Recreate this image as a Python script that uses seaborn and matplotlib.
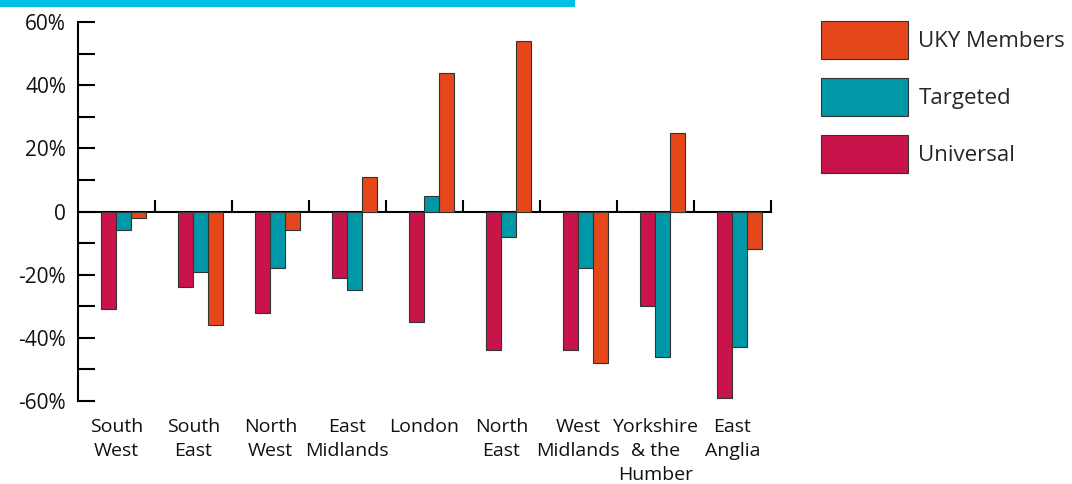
import numpy as np
import pandas as pd
import matplotlib
matplotlib.use("Agg")
import matplotlib.pyplot as plt
from matplotlib.patches import Patch, Rectangle
from matplotlib.ticker import MultipleLocator, FixedLocator
import seaborn as sns

regions = ["South\nWest", "South\nEast", "North\nWest", "East\nMidlands", "London",
           "North\nEast", "West\nMidlands", "Yorkshire\n& the\nHumber", "East\nAnglia"]
universal = [-31, -24, -32, -21, -35, -44, -44, -30, -59]
targeted = [-6, -19, -18, -25, 5, -8, -18, -46, -43]
uky_members = [-2, -36, -6, 11, 44, 54, -48, 25, -12]
series_names = ["Universal", "Targeted", "UKY Members"]
colors = {"Universal": "#C8144A", "Targeted": "#0098A6", "UKY Members": "#E5461A"}
y_ticks = [-60, -40, -20, 0, 20, 40, 60]
y_tick_labels = ["-60%", "-40%", "-20%", "0", "20%", "40%", "60%"]

df = pd.DataFrame({
    "region": regions * 3,
    "series": np.repeat(series_names, len(regions)),
    "value": universal + targeted + uky_members,
})

sns.set_theme(style="white")
plt.rcParams["font.family"] = ["Open Sans", "DejaVu Sans"]

fig = plt.figure(figsize=(10.72, 4.84), dpi=100)
ax = fig.add_axes([0.0728, 0.1715, 0.6462, 0.783])

sns.barplot(data=df, x="region", y="value", hue="series", order=regions,
            hue_order=series_names, palette=colors, saturation=1, width=0.584, gap=0,
            edgecolor="#333333", linewidth=0.8, legend=False, ax=ax)

ax.set_ylim(-60, 60)
ax.set_xlim(-0.591, 8.409)
ax.set_xlabel("")
ax.set_ylabel("")

# y axis
ax.yaxis.set_major_locator(FixedLocator(y_ticks))
ax.set_yticklabels(y_tick_labels)
ax.yaxis.set_minor_locator(MultipleLocator(10))
ax.tick_params(axis="y", which="both", direction="in", length=12.5, width=1.5,
               color="black", left=True, labelsize=15, pad=8.6, labelcolor="#111111")
ax.spines["left"].set_linewidth(1.5)
ax.spines["left"].set_color("black")
for s in ["top", "right", "bottom"]:
    ax.spines[s].set_visible(False)

# x labels at the category span centres
ax.set_xticks(np.arange(len(regions)) - 0.091)
ax.set_xticklabels(regions, fontsize=14, linespacing=1.45, color="#111111")
ax.tick_params(axis="x", which="both", length=0, pad=12)

# zero line with upward boundary ticks
sec = ax.secondary_xaxis(0, transform=ax.transData)
bounds = np.arange(len(regions)) + 0.409
sec.set_xticks(bounds, labels=[""] * len(bounds))
sec.tick_params(axis="x", which="major", direction="in", length=9, width=1.5,
                color="black", bottom=True, top=False)
for s in ["top", "bottom"]:
    sec.spines[s].set_linewidth(1.5)
    sec.spines[s].set_color("black")

# legend
handles = [Patch(facecolor=colors[n], edgecolor="#333333", linewidth=0.8, label=n)
           for n in ["UKY Members", "Targeted", "Universal"]]
fig.legend(handles=handles, loc="upper left", bbox_to_anchor=(0.766, 0.957),
           frameon=False, fontsize=16, handlelength=3.92, handleheight=2.3,
           labelspacing=0.82, handletextpad=0.45, borderaxespad=0, borderpad=0)

# top accent bar
fig.patches.append(Rectangle((0, 1 - 7 / 484), 575 / 1072, 7 / 484,
                             transform=fig.transFigure, facecolor="#00BFE2",
                             edgecolor="none", zorder=5))

fig.savefig("out.png", dpi=100)
